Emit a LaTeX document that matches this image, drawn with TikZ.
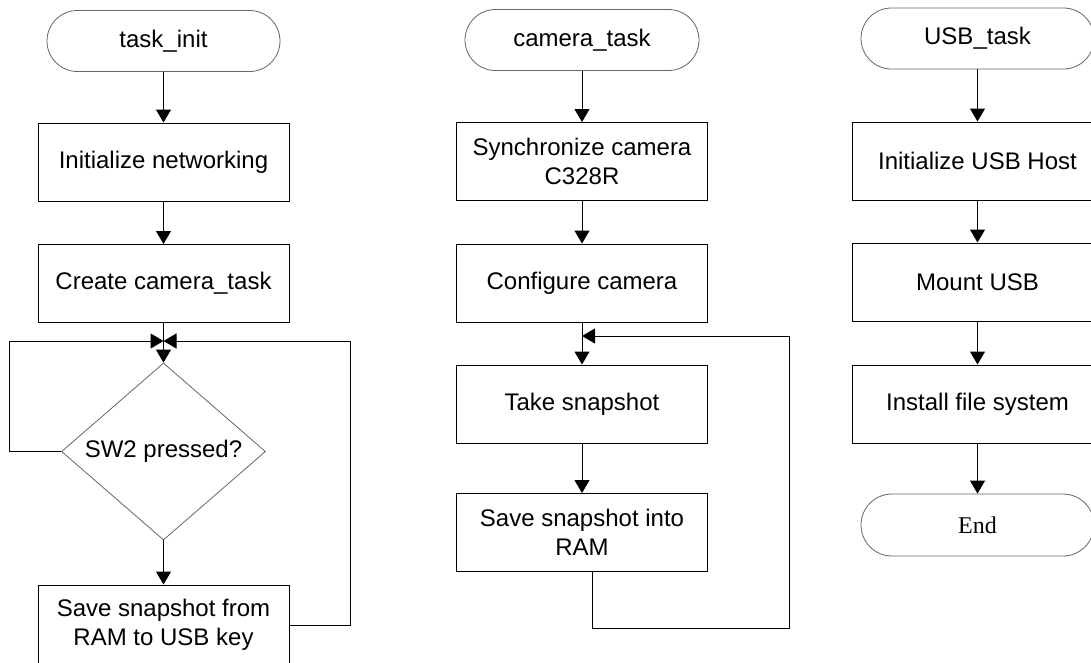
\documentclass[tikz,border=0pt]{standalone}
\usepackage{fontspec}
\setmainfont{Liberation Sans}
\newfontfamily\endfont{Liberation Serif}
\usetikzlibrary{shapes.geometric,shapes.misc,arrows.meta}

\begin{document}
\begin{tikzpicture}[
  x=1pt, y=-1pt,
  every node/.style={font=\fontsize{24}{29}\selectfont, align=center},
  proc/.style={draw, line width=1pt, minimum width=251pt, minimum height=78pt, inner sep=0pt},
  term/.style={draw=black!60, line width=0.8pt, rounded rectangle, minimum width=233pt, minimum height=61pt, inner sep=0pt},
  decide/.style={draw=black!60, line width=0.8pt, diamond, aspect=1.15, minimum width=204pt, minimum height=177pt, inner sep=0pt},
  flow/.style={-{Triangle[width=15pt,length=13pt]}, line width=1pt},
]

\clip (0,0) rectangle (1091,662);

%--- task_init ------------------------------------------------------------
\node[term] (init) at (163.5,41) {task\_init};
\node[proc] (net) at (163.5,162) {Initialize networking};
\node[proc] (mkcam) at (163.5,283.5) {Create camera\_task};
\node[decide] (sw2) at (163.5,451.5) {SW2 pressed?};
\node[proc, minimum height=80pt] (usbsave) at (163.5,625) {Save snapshot from\\RAM to USB key};
\coordinate (jl) at (163.5,341);

\draw[flow] (init.south) -- (net.north);
\draw[flow] (net.south) -- (mkcam.north);
\draw[flow] (mkcam.south) -- (sw2.north);
\draw[flow] (sw2.south) -- (usbsave.north);
% loops back to the test
\draw[flow] (sw2.west) -- ++(-52,0) |- (jl);
\draw[flow] (usbsave.east) -- ++(61,0) |- (jl);

%--- camera_task ----------------------------------------------------------
\node[term, minimum width=234pt] (cam) at (582,40) {camera\_task};
\node[proc] (sync) at (582,161.5) {Synchronize camera\\C328R};
\node[proc] (conf) at (582,283) {Configure camera};
\node[proc] (snap) at (582,404) {Take snapshot};
\node[proc] (ram) at (582,532.5) {Save snapshot into\\RAM};
\coordinate (jm) at (582,336);
\coordinate (jmr) at (789,336);

\draw[flow] (cam.south) -- (sync.north);
\draw[flow] (sync.south) -- (conf.north);
\draw[flow] (conf.south) -- (snap.north);
\draw[flow] (snap.south) -- (ram.north);
% endless loop
\draw[flow] ([xshift=10pt]ram.south) -- ++(0,56) -| (jmr) -- (jm);

%--- USB_task -------------------------------------------------------------
\node[term] (usb) at (977.5,38.5) {USB\_task};
\node[proc] (host) at (977.5,161) {Initialize USB Host};
\node[proc] (mnt) at (977.5,282) {Mount USB};
\node[proc] (fs) at (977.5,404) {Install file system};
\node[term, font=\endfont\fontsize{24}{29}\selectfont, minimum height=62pt] (fin) at (977.5,525) {End};

\draw[flow] (usb.south) -- (host.north);
\draw[flow] (host.south) -- (mnt.north);
\draw[flow] (mnt.south) -- (fs.north);
\draw[flow] (fs.south) -- (fin.north);

\end{tikzpicture}
\end{document}
